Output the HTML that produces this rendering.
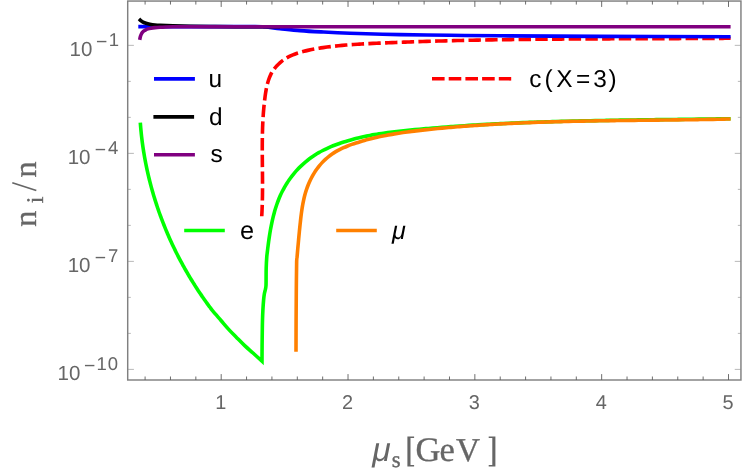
<!DOCTYPE html>
<html><head><meta charset="utf-8"><title>plot</title>
<style>
html,body{margin:0;padding:0;background:#fff;}
body{width:750px;height:475px;overflow:hidden;}
svg{display:block;font-family:"Liberation Sans",sans-serif;will-change:transform;text-rendering:geometricPrecision;}
</style></head><body>
<svg width="750" height="475" viewBox="0 0 750 475">
<rect width="750" height="475" fill="#ffffff"/>
<path d="M261.72 216.23 C261.76 215.58 261.87 213.64 261.94 212.35 C262.00 211.06 262.06 209.77 262.11 208.48 C262.17 207.19 262.21 205.90 262.25 204.61 C262.30 203.33 262.33 202.04 262.36 200.75 C262.39 199.47 262.42 198.18 262.44 196.90 C262.46 195.61 262.48 194.33 262.49 193.04 C262.50 191.76 262.51 190.48 262.52 189.20 C262.52 187.91 262.53 186.63 262.53 185.35 C262.53 184.07 262.52 182.79 262.52 181.51 C262.51 180.23 262.51 178.95 262.50 177.67 C262.49 176.39 262.48 175.11 262.47 173.83 C262.46 172.55 262.44 171.27 262.43 169.99 C262.42 168.71 262.41 167.44 262.39 166.16 C262.38 164.88 262.37 163.60 262.35 162.32 C262.34 161.05 262.33 159.77 262.32 158.49 C262.31 157.21 262.30 155.93 262.29 154.66 C262.29 153.38 262.28 152.10 262.28 150.82 C262.27 149.55 262.27 148.27 262.27 146.99 C262.28 145.71 262.28 144.43 262.29 143.15 C262.30 141.88 262.31 140.60 262.32 139.32 C262.34 138.04 262.36 136.76 262.38 135.48 C262.41 134.20 262.44 132.92 262.47 131.64 C262.50 130.36 262.54 129.08 262.59 127.80 C262.63 126.51 262.68 125.23 262.74 123.95 C262.80 122.67 262.86 121.38 262.93 120.10 C263.00 118.82 263.08 117.53 263.16 116.25 C263.24 114.96 263.34 113.68 263.43 112.39 C263.53 111.11 263.64 109.82 263.76 108.53 C263.87 107.24 264.00 105.95 264.13 104.66 C264.26 103.38 264.41 102.08 264.56 100.79 C264.71 99.50 264.87 98.21 265.04 96.92 C265.22 95.62 265.39 94.33 265.59 93.04 C265.79 91.75 266.01 90.46 266.25 89.18 C266.49 87.91 266.75 86.64 267.04 85.38 C267.34 84.13 267.66 82.89 268.03 81.67 C268.40 80.45 268.79 79.24 269.24 78.07 C269.70 76.89 270.18 75.74 270.73 74.62 C271.28 73.49 271.88 72.40 272.54 71.34 C273.19 70.28 273.91 69.26 274.68 68.27 C275.45 67.29 276.28 66.33 277.14 65.42 C278.01 64.51 278.93 63.64 279.88 62.80 C280.84 61.97 281.84 61.18 282.87 60.42 C283.89 59.67 284.96 58.96 286.05 58.30 C287.14 57.63 288.27 57.01 289.41 56.43 C290.55 55.86 291.71 55.33 292.89 54.83 C294.08 54.33 295.28 53.88 296.50 53.45 C297.71 53.03 298.95 52.64 300.19 52.27 C301.43 51.91 302.69 51.57 303.95 51.26 C305.21 50.94 306.48 50.65 307.75 50.37 C309.03 50.10 310.31 49.84 311.58 49.59 C312.86 49.34 314.14 49.10 315.42 48.88 C316.69 48.65 317.97 48.43 319.25 48.22 C320.53 48.01 321.80 47.82 323.08 47.63 C324.36 47.44 325.64 47.26 326.91 47.08 C328.19 46.91 329.47 46.75 330.75 46.59 C332.02 46.43 333.30 46.28 334.58 46.14 C335.85 46.00 337.13 45.87 338.41 45.74 C339.68 45.61 340.96 45.49 342.24 45.37 C343.51 45.26 344.79 45.15 346.07 45.04 C347.34 44.94 348.62 44.84 349.90 44.75 C351.17 44.65 352.45 44.56 353.73 44.48 C355.00 44.39 356.28 44.31 357.56 44.23 C358.84 44.15 360.11 44.08 361.39 44.01 C362.67 43.93 363.94 43.87 365.22 43.80 C366.50 43.73 367.78 43.67 369.05 43.61 C370.33 43.54 371.61 43.48 372.89 43.42 C374.16 43.37 375.44 43.31 376.72 43.25 C378.00 43.19 379.27 43.13 380.55 43.08 C381.83 43.02 383.11 42.97 384.39 42.91 C385.67 42.86 386.94 42.80 388.22 42.75 C389.50 42.70 390.78 42.65 392.06 42.59 C393.34 42.54 394.62 42.49 395.89 42.44 C397.17 42.39 398.45 42.34 399.73 42.29 C401.01 42.24 402.29 42.20 403.57 42.15 C404.85 42.10 406.13 42.06 407.41 42.01 C408.69 41.96 409.97 41.92 411.25 41.87 C412.53 41.83 413.81 41.79 415.09 41.74 C416.37 41.70 417.65 41.66 418.93 41.61 C420.21 41.57 421.49 41.53 422.77 41.49 C424.05 41.45 425.33 41.41 426.61 41.37 C427.89 41.33 429.17 41.29 430.45 41.26 C431.73 41.22 433.01 41.18 434.29 41.14 C435.58 41.11 436.86 41.07 438.14 41.03 C439.42 41.00 440.70 40.96 441.98 40.93 C443.26 40.89 444.54 40.86 445.82 40.83 C447.11 40.79 448.39 40.76 449.67 40.73 C450.95 40.70 452.23 40.67 453.51 40.64 C454.80 40.60 456.08 40.57 457.36 40.54 C458.64 40.51 459.92 40.48 461.21 40.46 C462.49 40.43 463.77 40.40 465.05 40.37 C466.33 40.34 467.62 40.32 468.90 40.29 C470.18 40.26 471.46 40.24 472.74 40.21 C474.03 40.18 475.31 40.16 476.59 40.13 C477.87 40.11 479.16 40.09 480.44 40.06 C481.72 40.04 483.01 40.01 484.29 39.99 C485.57 39.97 486.85 39.95 488.14 39.92 C489.42 39.90 490.70 39.88 491.98 39.86 C493.27 39.84 494.55 39.82 495.83 39.80 C497.12 39.78 498.40 39.76 499.68 39.74 C500.97 39.72 502.25 39.70 503.53 39.68 C504.82 39.66 506.10 39.65 507.38 39.63 C508.66 39.61 509.95 39.59 511.23 39.58 C512.51 39.56 513.80 39.54 515.08 39.53 C516.37 39.51 517.65 39.49 518.93 39.48 C520.22 39.46 521.50 39.45 522.78 39.43 C524.07 39.42 525.35 39.40 526.63 39.39 C527.92 39.37 529.20 39.36 530.48 39.35 C531.77 39.33 533.05 39.32 534.33 39.31 C535.62 39.30 536.90 39.28 538.19 39.27 C539.47 39.26 540.75 39.25 542.04 39.24 C543.32 39.22 544.60 39.21 545.89 39.20 C547.17 39.19 548.46 39.18 549.74 39.17 C551.02 39.16 552.31 39.15 553.59 39.14 C554.88 39.13 556.16 39.12 557.44 39.11 C558.73 39.10 560.01 39.09 561.29 39.08 C562.58 39.07 563.86 39.06 565.15 39.05 C566.43 39.05 567.71 39.04 569.00 39.03 C570.28 39.02 571.57 39.01 572.85 39.01 C574.13 39.00 575.42 38.99 576.70 38.98 C577.98 38.98 579.27 38.97 580.55 38.96 C581.84 38.96 583.12 38.95 584.40 38.94 C585.69 38.94 586.97 38.93 588.26 38.92 C589.54 38.92 590.82 38.91 592.11 38.90 C593.39 38.90 594.67 38.89 595.96 38.89 C597.24 38.88 598.53 38.87 599.81 38.87 C601.09 38.86 602.38 38.86 603.66 38.85 C604.94 38.85 606.23 38.84 607.51 38.84 C608.79 38.83 610.08 38.83 611.36 38.82 C612.64 38.82 613.93 38.81 615.21 38.81 C616.50 38.80 617.78 38.80 619.06 38.79 C620.35 38.79 621.63 38.79 622.91 38.78 C624.20 38.78 625.48 38.77 626.76 38.77 C628.05 38.76 629.33 38.76 630.61 38.75 C631.90 38.75 633.18 38.75 634.46 38.74 C635.74 38.74 637.03 38.73 638.31 38.73 C639.59 38.72 640.88 38.72 642.16 38.72 C643.44 38.71 644.73 38.71 646.01 38.70 C647.29 38.70 648.57 38.69 649.86 38.69 C651.14 38.69 652.42 38.68 653.71 38.68 C654.99 38.67 656.27 38.67 657.55 38.66 C658.84 38.66 660.12 38.65 661.40 38.65 C662.68 38.64 663.97 38.64 665.25 38.63 C666.53 38.63 667.81 38.63 669.09 38.62 C670.38 38.62 671.66 38.61 672.94 38.60 C674.22 38.60 675.50 38.59 676.79 38.59 C678.07 38.58 679.35 38.58 680.63 38.57 C681.91 38.57 683.20 38.56 684.48 38.56 C685.76 38.55 687.04 38.54 688.32 38.54 C689.60 38.53 690.88 38.53 692.17 38.52 C693.45 38.51 694.73 38.51 696.01 38.50 C697.29 38.49 698.57 38.49 699.85 38.48 C701.13 38.47 702.41 38.46 703.70 38.46 C704.98 38.45 706.26 38.44 707.54 38.43 C708.82 38.43 710.10 38.42 711.38 38.41 C712.66 38.40 713.94 38.39 715.22 38.38 C716.50 38.37 717.78 38.37 719.06 38.36 C720.34 38.35 721.62 38.34 722.90 38.33 C724.18 38.32 725.46 38.31 726.74 38.30 C728.02 38.29 729.94 38.27 730.58 38.27" stroke="#ff0000" stroke-width="3.6" fill="none" stroke-dasharray="12.4 4.3" stroke-dashoffset="1.0"/>
<path d="M138.30 26.60 C148.58 26.60 180.55 26.60 200.00 26.60 C219.45 26.60 244.17 26.53 255.00 26.60 C265.83 26.67 260.83 26.67 265.00 27.00 C269.17 27.33 274.17 28.00 280.00 28.60 C285.83 29.20 293.17 30.05 300.00 30.60 C306.83 31.15 312.67 31.47 321.00 31.90 C329.33 32.33 336.83 32.75 350.00 33.20 C363.17 33.65 383.33 34.25 400.00 34.60 C416.67 34.95 433.33 35.10 450.00 35.30 C466.67 35.50 475.00 35.62 500.00 35.80 C525.00 35.98 561.57 36.25 600.00 36.40 C638.43 36.55 708.83 36.65 730.60 36.70" stroke="#0000ff" stroke-width="3.6" fill="none"/>
<path d="M139.00 18.90 C139.30 19.18 140.13 20.07 140.80 20.60 C141.47 21.13 142.13 21.65 143.00 22.10 C143.87 22.55 144.87 22.95 146.00 23.30 C147.13 23.65 148.30 23.93 149.80 24.20 C151.30 24.47 153.30 24.77 155.00 24.95 C156.70 25.13 157.00 25.16 160.00 25.30 C163.00 25.44 168.00 25.65 173.00 25.80 C178.00 25.95 183.83 26.08 190.00 26.20 C196.17 26.32 202.50 26.42 210.00 26.50 C217.50 26.58 223.33 26.67 235.00 26.70 C246.67 26.73 272.50 26.70 280.00 26.70" stroke="#000000" stroke-width="3.6" fill="none"/>
<path d="M139.70 39.90 C139.82 39.33 140.12 37.48 140.40 36.50 C140.68 35.52 141.03 34.72 141.40 34.00 C141.77 33.28 142.18 32.72 142.60 32.20 C143.02 31.68 143.37 31.30 143.90 30.90 C144.43 30.50 145.12 30.13 145.80 29.80 C146.48 29.47 147.13 29.17 148.00 28.90 C148.87 28.63 149.83 28.42 151.00 28.20 C152.17 27.98 153.50 27.77 155.00 27.60 C156.50 27.43 158.17 27.31 160.00 27.20 C161.83 27.09 163.83 27.02 166.00 26.95 C168.17 26.88 169.00 26.84 173.00 26.80 C177.00 26.76 175.50 26.72 190.00 26.70 C204.50 26.68 225.00 26.70 260.00 26.70 C295.00 26.70 321.57 26.70 400.00 26.70 C478.43 26.70 675.50 26.70 730.60 26.70" stroke="#800080" stroke-width="3.6" fill="none"/>
<path d="M140.30 122.55 C140.35 123.12 140.47 124.86 140.57 126.01 C140.66 127.16 140.76 128.32 140.87 129.47 C140.97 130.62 141.08 131.77 141.20 132.93 C141.32 134.08 141.44 135.23 141.57 136.38 C141.70 137.52 141.84 138.67 141.98 139.82 C142.12 140.97 142.27 142.11 142.42 143.26 C142.58 144.41 142.74 145.55 142.90 146.69 C143.07 147.84 143.24 148.98 143.42 150.12 C143.59 151.26 143.78 152.40 143.97 153.54 C144.16 154.68 144.35 155.82 144.55 156.96 C144.75 158.09 144.96 159.23 145.17 160.36 C145.38 161.50 145.60 162.63 145.82 163.76 C146.05 164.90 146.28 166.03 146.51 167.16 C146.75 168.29 146.99 169.42 147.24 170.54 C147.48 171.67 147.74 172.80 147.99 173.92 C148.25 175.05 148.51 176.17 148.78 177.29 C149.05 178.41 149.33 179.53 149.61 180.65 C149.89 181.77 150.18 182.89 150.47 184.01 C150.76 185.12 151.06 186.24 151.36 187.35 C151.66 188.46 151.97 189.57 152.28 190.68 C152.60 191.79 152.92 192.90 153.24 194.01 C153.57 195.11 153.90 196.22 154.23 197.32 C154.57 198.43 154.91 199.53 155.26 200.63 C155.61 201.73 155.96 202.83 156.32 203.92 C156.67 205.02 157.04 206.11 157.40 207.21 C157.77 208.30 158.15 209.39 158.53 210.48 C158.90 211.57 159.29 212.66 159.68 213.74 C160.07 214.83 160.46 215.91 160.86 216.99 C161.27 218.07 161.67 219.15 162.08 220.23 C162.49 221.31 162.91 222.39 163.33 223.46 C163.75 224.53 164.18 225.61 164.61 226.67 C165.04 227.74 165.48 228.81 165.92 229.88 C166.36 230.94 166.81 232.01 167.26 233.07 C167.72 234.13 168.17 235.19 168.64 236.24 C169.10 237.30 169.57 238.36 170.04 239.41 C170.51 240.46 170.99 241.51 171.48 242.56 C171.96 243.61 172.45 244.65 172.94 245.70 C173.43 246.74 173.93 247.78 174.44 248.82 C174.94 249.86 175.45 250.89 175.96 251.93 C176.47 252.96 176.99 253.99 177.52 255.02 C178.04 256.05 178.57 257.08 179.10 258.10 C179.63 259.12 180.17 260.14 180.71 261.16 C181.26 262.18 181.81 263.20 182.36 264.21 C182.91 265.22 183.47 266.24 184.03 267.24 C184.59 268.25 185.16 269.26 185.73 270.26 C186.30 271.26 186.88 272.26 187.46 273.26 C188.04 274.26 188.63 275.25 189.22 276.25 C189.81 277.24 190.41 278.23 191.01 279.21 C191.61 280.20 192.21 281.18 192.82 282.16 C193.43 283.14 194.05 284.12 194.67 285.10 C195.29 286.07 195.91 287.04 196.54 288.01 C197.17 288.98 197.80 289.95 198.44 290.91 C199.08 291.87 199.72 292.83 200.37 293.79 C201.01 294.75 201.67 295.70 202.32 296.65 C202.98 297.60 203.64 298.55 204.30 299.50 C204.97 300.44 205.64 301.38 206.31 302.32 C206.99 303.26 207.66 304.19 208.35 305.12 C209.03 306.06 209.72 306.98 210.41 307.91 C211.10 308.84 210.73 308.58 212.50 310.68 C214.26 312.77 218.27 317.35 221.00 320.50 C223.73 323.65 226.32 326.78 228.90 329.60 C231.48 332.42 233.87 334.73 236.50 337.40 C239.13 340.07 241.95 343.00 244.70 345.60 C247.45 348.20 250.12 350.40 253.00 353.00 C255.88 355.60 260.50 359.83 262.00 361.20 L262.00 361.20 C262.02 358.67 262.05 351.20 262.10 346.00 C262.15 340.80 262.23 334.33 262.30 330.00 C262.37 325.67 262.40 323.33 262.50 320.00 C262.60 316.67 262.72 313.33 262.90 310.00 C263.08 306.67 263.35 302.75 263.60 300.00 C263.85 297.25 264.08 295.33 264.40 293.50 C264.72 291.67 265.23 290.33 265.50 289.00 C265.77 287.67 265.90 287.33 266.00 285.50 C266.10 283.67 266.07 280.92 266.10 278.00 C266.13 275.08 266.09 271.52 266.20 268.00 C266.31 264.48 266.59 259.45 266.77 256.87 C266.95 254.29 267.10 253.98 267.27 252.53 C267.44 251.07 267.61 249.61 267.79 248.14 C267.97 246.67 268.16 245.19 268.35 243.71 C268.55 242.23 268.75 240.74 268.96 239.26 C269.18 237.77 269.40 236.27 269.64 234.78 C269.87 233.29 270.12 231.79 270.38 230.29 C270.64 228.80 270.92 227.30 271.21 225.81 C271.51 224.31 271.81 222.82 272.14 221.33 C272.47 219.84 272.81 218.35 273.18 216.87 C273.54 215.39 273.93 213.91 274.34 212.45 C274.74 210.98 275.17 209.52 275.63 208.07 C276.08 206.62 276.56 205.17 277.06 203.75 C277.56 202.32 278.09 200.90 278.65 199.49 C279.21 198.09 279.79 196.70 280.40 195.32 C281.02 193.95 281.66 192.59 282.34 191.25 C283.02 189.91 283.72 188.59 284.46 187.28 C285.20 185.98 285.97 184.69 286.77 183.43 C287.57 182.16 288.40 180.92 289.26 179.70 C290.12 178.47 291.01 177.27 291.92 176.09 C292.84 174.91 293.78 173.75 294.75 172.62 C295.72 171.49 296.72 170.38 297.75 169.29 C298.77 168.21 299.82 167.15 300.90 166.11 C301.97 165.08 303.07 164.07 304.20 163.09 C305.32 162.11 306.47 161.15 307.64 160.23 C308.82 159.30 310.01 158.40 311.23 157.53 C312.45 156.67 313.69 155.83 314.95 155.02 C316.21 154.21 317.49 153.43 318.79 152.68 C320.10 151.93 321.42 151.22 322.76 150.52 C324.09 149.83 325.45 149.17 326.82 148.53 C328.18 147.89 329.57 147.28 330.96 146.70 C332.35 146.11 333.76 145.54 335.17 145.00 C336.58 144.46 338.00 143.94 339.43 143.44 C340.85 142.94 342.29 142.46 343.72 141.99 C345.16 141.53 346.60 141.09 348.04 140.66 C349.48 140.23 350.93 139.83 352.39 139.43 C353.84 139.04 355.29 138.66 356.75 138.30 C358.21 137.94 359.67 137.60 361.14 137.26 C362.61 136.93 364.08 136.62 365.55 136.31 C367.02 136.01 368.49 135.72 369.97 135.44 C371.45 135.16 372.93 134.89 374.41 134.64 C375.90 134.38 377.38 134.14 378.87 133.90 C380.36 133.67 381.84 133.44 383.34 133.23 C384.83 133.01 386.32 132.81 387.81 132.61 C389.31 132.41 390.80 132.22 392.30 132.03 C393.80 131.85 395.30 131.67 396.80 131.50 C398.30 131.33 399.80 131.16 401.30 131.00 C402.80 130.84 404.30 130.69 405.80 130.53 C407.30 130.38 408.81 130.23 410.31 130.08 C411.81 129.94 413.31 129.79 414.82 129.65 C416.32 129.51 417.82 129.37 419.32 129.23 C420.83 129.09 422.33 128.96 423.83 128.83 C425.33 128.69 426.84 128.56 428.34 128.43 C429.84 128.30 431.34 128.18 432.84 128.05 C434.35 127.93 435.85 127.80 437.35 127.68 C438.85 127.56 440.36 127.44 441.86 127.32 C443.36 127.21 444.86 127.09 446.37 126.98 C447.87 126.86 449.37 126.75 450.87 126.64 C452.37 126.53 453.88 126.43 455.38 126.32 C456.88 126.21 458.38 126.11 459.89 126.01 C461.39 125.90 462.89 125.80 464.39 125.71 C465.89 125.61 467.40 125.51 468.90 125.41 C470.40 125.32 471.90 125.23 473.41 125.13 C474.91 125.04 476.41 124.95 477.91 124.86 C479.42 124.77 480.92 124.69 482.42 124.60 C483.92 124.52 485.42 124.43 486.93 124.35 C488.43 124.27 489.93 124.19 491.43 124.11 C492.94 124.03 494.44 123.95 495.94 123.87 C497.44 123.80 498.95 123.72 500.45 123.65 C501.95 123.58 503.45 123.51 504.95 123.44 C506.46 123.36 507.96 123.30 509.46 123.23 C510.96 123.16 512.47 123.09 513.97 123.03 C515.47 122.96 516.97 122.90 518.48 122.84 C519.98 122.78 521.48 122.72 522.98 122.66 C524.49 122.60 525.99 122.54 527.49 122.48 C528.99 122.42 530.50 122.37 532.00 122.31 C533.50 122.26 535.00 122.20 536.51 122.15 C538.01 122.10 539.51 122.05 541.02 122.00 C542.52 121.95 544.02 121.90 545.52 121.85 C547.03 121.80 548.53 121.75 550.03 121.71 C551.53 121.66 553.04 121.62 554.54 121.57 C556.04 121.53 557.55 121.49 559.05 121.44 C560.55 121.40 562.06 121.36 563.56 121.32 C565.06 121.28 566.56 121.24 568.07 121.20 C569.57 121.16 571.07 121.13 572.58 121.09 C574.08 121.05 575.58 121.02 577.09 120.98 C578.59 120.95 580.09 120.91 581.60 120.88 C583.10 120.85 584.60 120.81 586.11 120.78 C587.61 120.75 589.11 120.72 590.62 120.69 C592.12 120.66 593.62 120.63 595.13 120.60 C596.63 120.57 598.13 120.54 599.64 120.51 C601.14 120.48 602.65 120.46 604.15 120.43 C605.65 120.40 607.16 120.38 608.66 120.35 C610.16 120.33 611.67 120.30 613.17 120.28 C614.68 120.25 616.18 120.23 617.68 120.20 C619.19 120.18 620.69 120.16 622.20 120.13 C623.70 120.11 625.21 120.09 626.71 120.07 C628.21 120.04 629.72 120.02 631.22 120.00 C632.73 119.98 634.23 119.96 635.74 119.94 C637.24 119.92 638.75 119.90 640.25 119.88 C641.76 119.86 643.26 119.84 644.76 119.82 C646.27 119.80 647.77 119.78 649.28 119.76 C650.78 119.74 652.29 119.72 653.79 119.70 C655.30 119.68 656.80 119.66 658.31 119.65 C659.81 119.63 661.32 119.61 662.83 119.59 C664.33 119.57 665.84 119.55 667.34 119.54 C668.85 119.52 670.35 119.50 671.86 119.48 C673.36 119.46 674.87 119.44 676.38 119.43 C677.88 119.41 679.39 119.39 680.89 119.37 C682.40 119.35 683.90 119.33 685.41 119.32 C686.92 119.30 688.42 119.28 689.93 119.26 C691.44 119.24 692.94 119.22 694.45 119.20 C695.95 119.18 697.46 119.16 698.97 119.14 C700.47 119.12 701.98 119.10 703.49 119.08 C704.99 119.06 706.50 119.04 708.01 119.02 C709.51 119.00 711.02 118.98 712.53 118.96 C714.04 118.94 715.54 118.92 717.05 118.90 C718.56 118.87 720.06 118.85 721.57 118.83 C723.08 118.81 724.59 118.78 726.09 118.76 C727.60 118.74 729.86 118.70 730.62 118.69" stroke="#00ff00" stroke-width="3.6" fill="none" stroke-linejoin="miter" stroke-miterlimit="10"/>
<path d="M296.00 351.70 C296.02 346.42 296.05 330.28 296.10 320.00 C296.15 309.72 296.21 299.68 296.30 290.00 C296.39 280.32 296.52 267.33 296.64 261.93 C296.76 256.53 296.89 259.04 297.01 257.59 C297.14 256.15 297.26 254.71 297.39 253.27 C297.51 251.82 297.64 250.38 297.76 248.94 C297.89 247.50 298.02 246.06 298.15 244.62 C298.28 243.17 298.41 241.73 298.54 240.29 C298.67 238.85 298.80 237.40 298.94 235.96 C299.08 234.51 299.22 233.06 299.36 231.62 C299.50 230.17 299.65 228.72 299.80 227.26 C299.95 225.81 300.10 224.36 300.26 222.90 C300.42 221.44 300.57 219.98 300.74 218.52 C300.91 217.06 301.09 215.59 301.28 214.13 C301.47 212.67 301.67 211.21 301.88 209.75 C302.10 208.29 302.33 206.83 302.59 205.38 C302.84 203.93 303.12 202.49 303.42 201.05 C303.72 199.61 304.04 198.18 304.39 196.76 C304.75 195.33 305.13 193.92 305.54 192.52 C305.96 191.11 306.41 189.72 306.89 188.34 C307.38 186.97 307.90 185.60 308.46 184.25 C309.02 182.91 309.62 181.57 310.25 180.26 C310.88 178.95 311.54 177.65 312.24 176.38 C312.95 175.11 313.68 173.86 314.46 172.64 C315.23 171.41 316.04 170.21 316.88 169.04 C317.72 167.87 318.60 166.73 319.51 165.62 C320.42 164.51 321.37 163.43 322.35 162.38 C323.34 161.34 324.35 160.32 325.40 159.35 C326.45 158.37 327.54 157.43 328.66 156.54 C329.78 155.64 330.93 154.78 332.12 153.97 C333.30 153.15 334.53 152.38 335.78 151.65 C337.03 150.91 338.31 150.22 339.61 149.56 C340.91 148.90 342.24 148.28 343.58 147.68 C344.92 147.08 346.29 146.52 347.66 145.98 C349.03 145.44 350.42 144.92 351.81 144.42 C353.20 143.93 354.61 143.45 356.01 142.99 C357.41 142.53 358.81 142.09 360.22 141.66 C361.63 141.23 363.04 140.81 364.45 140.41 C365.86 140.01 367.27 139.63 368.69 139.26 C370.11 138.89 371.53 138.53 372.95 138.19 C374.37 137.84 375.79 137.51 377.22 137.19 C378.64 136.87 380.07 136.57 381.50 136.27 C382.93 135.97 384.36 135.69 385.79 135.41 C387.22 135.14 388.65 134.87 390.09 134.62 C391.52 134.36 392.96 134.12 394.40 133.88 C395.84 133.65 397.28 133.42 398.72 133.20 C400.16 132.98 401.60 132.77 403.04 132.56 C404.48 132.36 405.93 132.16 407.37 131.97 C408.82 131.77 410.26 131.59 411.71 131.41 C413.16 131.22 414.60 131.05 416.05 130.88 C417.50 130.71 418.94 130.54 420.39 130.38 C421.84 130.21 423.29 130.05 424.74 129.90 C426.19 129.74 427.64 129.59 429.09 129.44 C430.54 129.28 431.99 129.14 433.43 128.99 C434.88 128.84 436.33 128.70 437.78 128.56 C439.24 128.42 440.69 128.28 442.14 128.14 C443.59 128.01 445.04 127.88 446.49 127.74 C447.94 127.61 449.39 127.49 450.84 127.36 C452.29 127.23 453.75 127.11 455.20 126.99 C456.65 126.87 458.10 126.75 459.55 126.63 C461.01 126.52 462.46 126.40 463.91 126.29 C465.36 126.18 466.82 126.07 468.27 125.96 C469.72 125.85 471.18 125.75 472.63 125.65 C474.08 125.54 475.54 125.44 476.99 125.34 C478.44 125.24 479.90 125.15 481.35 125.05 C482.80 124.96 484.26 124.87 485.71 124.78 C487.17 124.69 488.62 124.60 490.08 124.51 C491.53 124.42 492.99 124.34 494.44 124.26 C495.89 124.17 497.35 124.09 498.81 124.01 C500.26 123.93 501.72 123.86 503.17 123.78 C504.63 123.71 506.08 123.63 507.54 123.56 C508.99 123.49 510.45 123.42 511.91 123.35 C513.36 123.28 514.82 123.21 516.27 123.15 C517.73 123.08 519.19 123.02 520.64 122.96 C522.10 122.90 523.56 122.84 525.01 122.78 C526.47 122.72 527.93 122.66 529.38 122.60 C530.84 122.55 532.30 122.49 533.75 122.44 C535.21 122.39 536.67 122.34 538.13 122.28 C539.58 122.23 541.04 122.19 542.50 122.14 C543.95 122.09 545.41 122.04 546.87 122.00 C548.33 121.95 549.79 121.91 551.24 121.87 C552.70 121.82 554.16 121.78 555.62 121.74 C557.07 121.70 558.53 121.66 559.99 121.62 C561.45 121.59 562.91 121.55 564.37 121.51 C565.82 121.48 567.28 121.44 568.74 121.41 C570.20 121.37 571.66 121.34 573.12 121.31 C574.57 121.28 576.03 121.24 577.49 121.21 C578.95 121.18 580.41 121.15 581.87 121.13 C583.33 121.10 584.78 121.07 586.24 121.04 C587.70 121.02 589.16 120.99 590.62 120.96 C592.08 120.94 593.54 120.91 595.00 120.89 C596.45 120.86 597.91 120.84 599.37 120.82 C600.83 120.80 602.29 120.77 603.75 120.75 C605.21 120.73 606.67 120.71 608.13 120.69 C609.59 120.67 611.04 120.65 612.50 120.63 C613.96 120.61 615.42 120.59 616.88 120.57 C618.34 120.55 619.80 120.53 621.26 120.51 C622.72 120.49 624.18 120.48 625.63 120.46 C627.09 120.44 628.55 120.42 630.01 120.41 C631.47 120.39 632.93 120.37 634.39 120.36 C635.85 120.34 637.31 120.32 638.76 120.31 C640.22 120.29 641.68 120.28 643.14 120.26 C644.60 120.24 646.06 120.23 647.52 120.21 C648.98 120.20 650.44 120.18 651.89 120.16 C653.35 120.15 654.81 120.13 656.27 120.11 C657.73 120.10 659.19 120.08 660.65 120.07 C662.10 120.05 663.56 120.03 665.02 120.02 C666.48 120.00 667.94 119.98 669.40 119.97 C670.85 119.95 672.31 119.93 673.77 119.91 C675.23 119.90 676.69 119.88 678.15 119.86 C679.60 119.84 681.06 119.82 682.52 119.80 C683.98 119.78 685.44 119.77 686.89 119.75 C688.35 119.73 689.81 119.71 691.27 119.68 C692.72 119.66 694.18 119.64 695.64 119.62 C697.10 119.60 698.55 119.58 700.01 119.55 C701.47 119.53 702.92 119.51 704.38 119.48 C705.84 119.46 707.30 119.43 708.75 119.41 C710.21 119.38 711.67 119.35 713.12 119.33 C714.58 119.30 716.04 119.27 717.49 119.24 C718.95 119.21 720.40 119.18 721.86 119.15 C723.32 119.12 724.77 119.09 726.23 119.06 C727.68 119.02 729.87 118.97 730.60 118.96" stroke="#ff8000" stroke-width="3.6" fill="none"/>
<rect x="127.70" y="1.05" width="613.25" height="378.95" fill="none" stroke="#808080" stroke-width="1.45"/>
<path d="M145.10 380.00V376.50 M145.10 1.05V4.55" stroke="#5e5e5e" stroke-width="0.9"/>
<path d="M170.47 380.00V376.50 M170.47 1.05V4.55" stroke="#5e5e5e" stroke-width="0.9"/>
<path d="M195.83 380.00V376.50 M195.83 1.05V4.55" stroke="#5e5e5e" stroke-width="0.9"/>
<path d="M221.20 380.00V374.10 M221.20 1.05V6.95" stroke="#5e5e5e" stroke-width="0.9"/>
<path d="M246.56 380.00V376.50 M246.56 1.05V4.55" stroke="#5e5e5e" stroke-width="0.9"/>
<path d="M271.93 380.00V376.50 M271.93 1.05V4.55" stroke="#5e5e5e" stroke-width="0.9"/>
<path d="M297.30 380.00V376.50 M297.30 1.05V4.55" stroke="#5e5e5e" stroke-width="0.9"/>
<path d="M322.66 380.00V376.50 M322.66 1.05V4.55" stroke="#5e5e5e" stroke-width="0.9"/>
<path d="M348.02 380.00V374.10 M348.02 1.05V6.95" stroke="#5e5e5e" stroke-width="0.9"/>
<path d="M373.39 380.00V376.50 M373.39 1.05V4.55" stroke="#5e5e5e" stroke-width="0.9"/>
<path d="M398.75 380.00V376.50 M398.75 1.05V4.55" stroke="#5e5e5e" stroke-width="0.9"/>
<path d="M424.12 380.00V376.50 M424.12 1.05V4.55" stroke="#5e5e5e" stroke-width="0.9"/>
<path d="M449.49 380.00V376.50 M449.49 1.05V4.55" stroke="#5e5e5e" stroke-width="0.9"/>
<path d="M474.85 380.00V374.10 M474.85 1.05V6.95" stroke="#5e5e5e" stroke-width="0.9"/>
<path d="M500.22 380.00V376.50 M500.22 1.05V4.55" stroke="#5e5e5e" stroke-width="0.9"/>
<path d="M525.58 380.00V376.50 M525.58 1.05V4.55" stroke="#5e5e5e" stroke-width="0.9"/>
<path d="M550.94 380.00V376.50 M550.94 1.05V4.55" stroke="#5e5e5e" stroke-width="0.9"/>
<path d="M576.31 380.00V376.50 M576.31 1.05V4.55" stroke="#5e5e5e" stroke-width="0.9"/>
<path d="M601.67 380.00V374.10 M601.67 1.05V6.95" stroke="#5e5e5e" stroke-width="0.9"/>
<path d="M627.04 380.00V376.50 M627.04 1.05V4.55" stroke="#5e5e5e" stroke-width="0.9"/>
<path d="M652.40 380.00V376.50 M652.40 1.05V4.55" stroke="#5e5e5e" stroke-width="0.9"/>
<path d="M677.77 380.00V376.50 M677.77 1.05V4.55" stroke="#5e5e5e" stroke-width="0.9"/>
<path d="M703.13 380.00V376.50 M703.13 1.05V4.55" stroke="#5e5e5e" stroke-width="0.9"/>
<path d="M728.50 380.00V374.10 M728.50 1.05V6.95" stroke="#5e5e5e" stroke-width="0.9"/>
<path d="M127.70 369.40H133.90 M740.95 369.40H734.75" stroke="#888888" stroke-width="0.6"/>
<path d="M127.70 333.40H130.80 M740.95 333.40H737.85" stroke="#888888" stroke-width="0.6"/>
<path d="M127.70 297.39H130.80 M740.95 297.39H737.85" stroke="#888888" stroke-width="0.6"/>
<path d="M127.70 261.39H133.90 M740.95 261.39H734.75" stroke="#888888" stroke-width="0.6"/>
<path d="M127.70 225.38H130.80 M740.95 225.38H737.85" stroke="#888888" stroke-width="0.6"/>
<path d="M127.70 189.37H130.80 M740.95 189.37H737.85" stroke="#888888" stroke-width="0.6"/>
<path d="M127.70 153.37H133.90 M740.95 153.37H734.75" stroke="#888888" stroke-width="0.6"/>
<path d="M127.70 117.36H130.80 M740.95 117.36H737.85" stroke="#888888" stroke-width="0.6"/>
<path d="M127.70 81.36H130.80 M740.95 81.36H737.85" stroke="#888888" stroke-width="0.6"/>
<path d="M127.70 45.35H133.90 M740.95 45.35H734.75" stroke="#888888" stroke-width="0.6"/>
<text x="220.70" y="408.5" font-size="19.9" text-anchor="middle" fill="#666666">1</text>
<text x="347.52" y="408.5" font-size="19.9" text-anchor="middle" fill="#666666">2</text>
<text x="474.35" y="408.5" font-size="19.9" text-anchor="middle" fill="#666666">3</text>
<text x="601.17" y="408.5" font-size="19.9" text-anchor="middle" fill="#666666">4</text>
<text x="728.00" y="408.5" font-size="19.9" text-anchor="middle" fill="#666666">5</text>
<text x="69.60" y="55.95" font-size="20.5" letter-spacing="0" fill="#666666">10</text>
<text x="96.10" y="48.15" font-size="19.4" fill="#666666">−</text>
<text x="108.80" y="46.35" font-size="18.5" letter-spacing="1" fill="#666666">1</text>
<text x="67.70" y="163.97" font-size="20.5" letter-spacing="0" fill="#666666">10</text>
<text x="94.80" y="156.17" font-size="19.4" fill="#666666">−</text>
<text x="108.00" y="154.37" font-size="18.5" letter-spacing="1" fill="#666666">4</text>
<text x="67.70" y="271.99" font-size="20.5" letter-spacing="0" fill="#666666">10</text>
<text x="94.80" y="264.19" font-size="19.4" fill="#666666">−</text>
<text x="108.00" y="262.39" font-size="18.5" letter-spacing="1" fill="#666666">7</text>
<text x="57.50" y="380.00" font-size="20.5" letter-spacing="0" fill="#666666">10</text>
<text x="84.00" y="372.20" font-size="19.4" fill="#666666">−</text>
<text x="96.40" y="370.40" font-size="18.5" letter-spacing="1" fill="#666666">10</text>
<path d="M154.00 78.90H194.90" stroke="#0000ff" stroke-width="3.6" />
<path d="M153.40 116.90H194.10" stroke="#000000" stroke-width="3.6" />
<path d="M154.00 154.70H194.90" stroke="#800080" stroke-width="3.6" />
<path d="M184.20 230.50H224.80" stroke="#00ff00" stroke-width="3.6" />
<path d="M336.20 230.50H376.80" stroke="#ff8000" stroke-width="3.6" />
<path d="M432.00 78.80H511.20" stroke="#ff0000" stroke-width="3.6" stroke-dasharray="12.6 4.1"/>
<text x="208.4" y="87.1" font-size="24.4" fill="#000">u</text>
<text x="208.9" y="125" font-size="24.4" fill="#000">d</text>
<text x="210.4" y="162.4" font-size="24.4" fill="#000">s</text>
<text x="239.9" y="238.8" font-size="25.4" fill="#000">e</text>
<text x="392.0" y="238.7" font-size="25.2" font-style="italic" fill="#000">μ</text>
<text x="529.2" y="87.4" font-size="24.4" fill="#000">c</text>
<text x="544.4" y="87.4" font-size="24.4" fill="#000">(</text>
<text x="556.3" y="87.4" font-size="24.4" fill="#000">X</text>
<text x="575.9" y="87.4" font-size="24.4" fill="#000">=</text>
<text x="593.3" y="87.4" font-size="24.4" fill="#000">3</text>
<text x="608.5" y="87.4" font-size="24.4" fill="#000">)</text>
<g font-family="Liberation Serif, serif" fill="#666666">
<text x="372.2" y="461.2" font-size="33.7" font-style="italic" font-family="Liberation Sans, sans-serif">μ</text>
<g stroke="#666666" stroke-width="0.35">
<text x="391.8" y="466.8" font-size="22.8">s</text>
<text x="415.6" y="460.6" font-size="34.5">G</text>
<text x="439.6" y="460.6" font-size="34.5">e</text>
<text x="455.9" y="460.6" font-size="33.2">V</text>
</g>
<path d="M407.4 436.6H414.1V438.1H410.5V465.0H414.1V466.5H407.4Z"/>
<path d="M495.4 436.6H488.7V438.1H492.3V465.0H488.7V466.5H495.4Z"/>
<path d="M12.3 182.7L36.3 190.5" stroke="#666666" stroke-width="1.7" fill="none"/>
<g transform="translate(36.1 226.8) rotate(-90)" stroke="#666666" stroke-width="0.35">
<text x="0" y="0" font-size="32">n</text>
<text x="23.6" y="6.8" font-size="24">i</text>
<text x="49.3" y="0" font-size="32">n</text>
</g>
</g>
</svg>
</body></html>
